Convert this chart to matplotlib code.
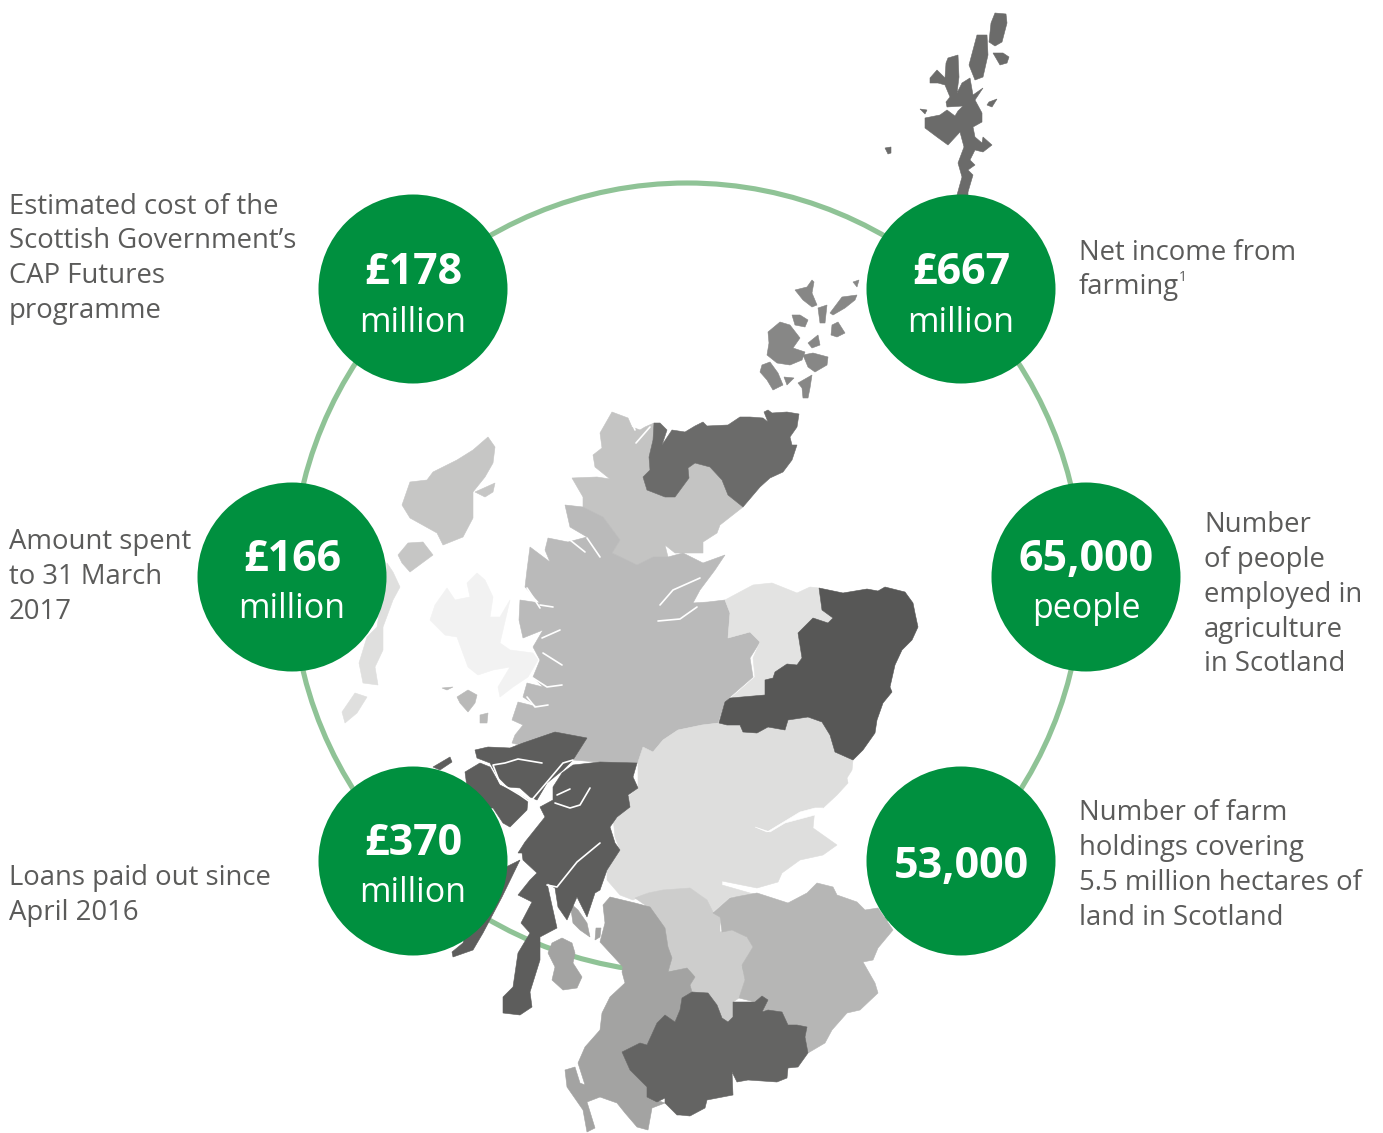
import matplotlib
matplotlib.use("Agg")
import matplotlib.pyplot as plt
from matplotlib.patches import Circle, Polygon

# the figures from the report
values = ["£178", "£667", "£166", "65,000", "£370", "53,000"]
units = ["million", "million", "million", "people", "million", ""]
descriptions = [
	["Estimated cost of the", "Scottish Government’s", "CAP Futures", "programme"],
	["Net income from", "farming"],
	["Amount spent", "to 31 March", "2017"],
	["Number", "of people", "employed in", "agriculture", "in Scotland"],
	["Loans paid out since", "April 2016"],
	["Number of farm", "holdings covering", "5.5 million hectares of", "land in Scotland"],
]

# map outlines, in pixels
shetland = [
	[(995,13),(1006,14),(1007,23),(1002,42),(995,46),(989,42),(991,23)],
	[(977,35),(987,35),(988,55),(983,77),(975,80),(969,65),(973,50)],
	[(993,53),(1003,53),(1009,57),(1007,63),(1000,65)],
	[(948,58),(958,55),(959,77),(957,93),(962,83),(970,78),(973,95),(983,88),(975,100),(982,113),(982,122),(973,127),(975,137),(982,143),(983,137),(992,145),(983,152),(975,150),(970,160),(975,165),(968,170),(973,175),(968,192),(968,197),(957,195),(962,177),(958,163),(964,147),(960,132),(948,145),(937,137),(925,128),(925,118),(940,115),(947,110),(955,116),(958,111),(963,106),(947,107),(946,102),(950,97),(945,85),(938,83),(930,83),(930,78),(937,70),(945,78),(946,63)],
	[(989,102),(997,99),(992,107),(987,105)],
	[(885,148),(891,147),(891,153),(888,154)],
	[(920,109),(927,110),(925,114)],
]
orkney = [
	[(768,332),(780,322),(790,325),(800,338),(793,348),(805,352),(802,360),(790,365),(777,363),(767,355),(769,343)],
	[(762,365),(770,362),(778,373),(783,385),(773,390),(767,380),(760,372)],
	[(798,383),(812,375),(810,388),(808,398),(803,398),(802,388)],
	[(784,377),(794,378),(787,385)],
	[(792,315),(800,315),(808,320),(805,327),(795,325)],
	[(803,355),(813,353),(828,357),(827,365),(815,372),(808,367)],
	[(808,343),(818,335),(820,345),(812,348)],
	[(830,313),(842,297),(857,295),(855,300),(845,308),(833,315)],
	[(795,290),(807,287),(812,280),(814,282),(812,293),(817,305),(812,307),(803,300)],
	[(818,308),(827,305),(825,323),(820,323)],
	[(832,325),(838,322),(845,333),(837,337),(831,335)],
	[(853,282),(859,280),(857,287)],
]
caithness = [[(654,423),(660,423),(667,430),(662,445),(672,430),(685,432),(695,426),(703,422),(707,426),(728,425),(740,417),(750,417),(763,418),(768,422),(764,412),(768,410),(772,413),(787,412),(799,414),(797,427),(790,437),(792,445),(797,445),(792,460),(783,472),(770,478),(760,487),(743,507),(728,495),(722,480),(710,467),(695,463),(688,468),(689,478),(675,497),(665,497),(647,490),(643,477),(650,470),(649,457),(653,440)]]
ross = [[(612,412),(628,418),(632,427),(640,430),(645,427),(654,423),(653,440),(649,457),(650,470),(643,477),(647,490),(665,497),(675,497),(689,478),(688,468),(695,463),(710,467),(722,480),(728,495),(743,507),(720,525),(717,533),(703,542),(703,553),(690,553),(675,553),(665,545),(668,557),(653,557),(637,565),(612,553),(620,540),(603,517),(583,507),(583,497),(572,478),(597,477),(610,479),(595,467),(593,455),(602,448),(600,433)]]
highland = [[(565,505),(570,527),(587,537),(568,542),(548,538),(545,550),(550,562),(530,547),(527,570),(525,587),(540,603),(520,600),(519,620),(523,638),(543,630),(533,647),(540,660),(533,677),(543,687),(527,683),(523,697),(538,707),(518,702),(512,720),(523,725),(515,735),(512,743),(527,747),(555,732),(587,738),(573,760),(597,762),(638,763),(643,750),(653,752),(663,740),(678,730),(702,725),(718,723),(725,702),(730,697),(753,677),(750,658),(760,642),(750,632),(728,638),(730,613),(725,600),(708,602),(693,603),(700,590),(715,570),(725,555),(703,563),(683,553),(668,557),(653,557),(637,565),(612,553),(620,540),(603,517),(583,507)]]
moray = [[(725,600),(738,593),(753,585),(772,583),(797,593),(810,587),(819,588),(822,610),(833,618),(828,623),(813,618),(798,633),(802,658),(797,665),(787,664),(775,672),(773,678),(765,680),(765,695),(732,697),(755,677),(753,658),(760,642),(750,632),(728,638),(730,613)]]
aberdeen = [[(819,588),(843,593),(867,589),(878,591),(885,587),(905,592),(913,603),(915,613),(918,627),(912,640),(902,650),(895,665),(890,687),(892,692),(883,703),(877,720),(875,733),(863,750),(853,760),(835,752),(830,735),(822,722),(808,717),(788,720),(785,730),(768,727),(757,733),(743,732),(740,725),(727,725),(719,723),(725,702),(730,698),(765,695),(765,680),(773,678),(775,672),(787,664),(797,665),(802,658),(798,633),(813,618),(828,623),(833,618),(822,610)]]
tayside = [[(638,762),(643,747),(653,752),(663,740),(678,730),(702,725),(719,723),(727,725),(740,725),(743,732),(757,733),(768,727),(785,730),(788,720),(808,717),(822,722),(830,735),(835,752),(853,760),(852,770),(847,778),(848,783),(837,795),(823,808),(815,808),(813,828),(837,845),(823,855),(800,860),(782,873),(778,882),(757,888),(722,881),(722,885),(757,895),(730,897),(713,912),(707,900),(690,888),(663,890),(647,893),(633,900),(620,895),(607,880),(607,870),(620,850),(615,837),(613,817),(628,805),(628,797),(638,788)]]
lanark = [[(635,898),(648,893),(663,890),(690,888),(707,900),(713,912),(720,917),(720,932),(732,930),(747,937),(753,947),(742,965),(745,980),(739,998),(733,1002),(733,1017),(728,1022),(722,1018),(717,1005),(708,993),(692,992),(690,985),(695,977),(687,968),(668,972),(672,958),(668,947),(665,928),(648,907)]]
borders = [[(713,913),(730,898),(757,893),(788,903),(807,893),(817,883),(833,887),(837,895),(857,902),(865,910),(878,908),(893,930),(878,948),(873,960),(863,962),(875,983),(878,993),(860,1010),(847,1013),(832,1030),(825,1043),(808,1053),(805,1037),(807,1027),(797,1025),(788,1025),(782,1012),(768,1010),(762,1012),(768,1000),(762,996),(755,1002),(739,998),(745,980),(742,965),(753,947),(747,937),(732,930),(722,932),(720,917)]]
ayrshire = [
	[(603,905),(610,897),(635,903),(650,907),(665,928),(668,947),(672,958),(668,972),(687,968),(695,977),(690,985),(692,992),(682,998),(680,1010),(675,1022),(665,1015),(657,1023),(647,1045),(640,1043),(622,1052),(630,1070),(647,1087),(647,1097),(665,1103),(652,1108),(648,1130),(637,1127),(625,1113),(617,1103),(600,1097),(587,1102),(595,1128),(587,1132),(583,1110),(567,1087),(565,1070),(575,1067),(580,1083),(585,1085),(578,1063),(585,1047),(600,1030),(602,1013),(610,997),(625,983),(622,972),(623,967),(600,942),(605,923)],
	[(562,938),(572,943),(575,953),(573,963),(582,977),(577,988),(563,990),(552,980),(555,967),(548,953),(552,943)],
	[(570,903),(578,910),(587,923),(590,937),(580,930),(573,923)],
	[(596,928),(601,928),(600,937),(595,940)],
]
dumfries = [[(622,1052),(640,1043),(647,1045),(657,1023),(665,1015),(675,1022),(680,1010),(682,998),(692,992),(708,993),(717,1005),(722,1018),(728,1022),(733,1017),(733,1002),(755,1002),(762,996),(768,1000),(762,1012),(768,1010),(782,1012),(788,1025),(797,1025),(807,1027),(805,1037),(808,1053),(798,1067),(788,1068),(787,1078),(777,1082),(748,1080),(737,1082),(732,1072),(733,1095),(707,1100),(705,1108),(690,1116),(680,1115),(677,1115),(665,1103),(665,1098),(657,1102),(647,1097),(647,1087),(630,1070)]]
argyll = [
	[(475,750),(488,747),(510,748),(523,743),(555,732),(587,738),(573,760),(563,770),(547,783),(537,800),(530,797),(520,788),(508,787),(498,777),(490,763),(477,758)],
	[(465,772),(480,763),(490,767),(500,785),(517,793),(528,800),(527,810),(510,827),(503,823),(493,808),(470,810)],
	[(573,765),(600,762),(637,763),(633,777),(638,788),(628,795),(630,807),(617,817),(610,827),(615,843),(620,850),(607,870),(600,890),(595,893),(587,917),(577,897),(567,920),(558,907),(555,888),(547,883),(557,928),(540,937),(540,960),(530,992),(532,1007),(520,1015),(503,1013),(503,997),(513,987),(518,953),(530,933),(521,923),(532,902),(518,895),(530,880),(537,873),(523,860),(522,853),(518,853),(525,842),(537,827),(545,817),(540,807),(553,800),(553,787),(562,773)],
	[(520,860),(502,897),(483,933),(473,950),(453,957),(452,952),(463,943),(470,920),(480,880)],
	[(433,767),(450,757),(452,762),(440,770)],
]
lewis = [
	[(488,437),(495,447),(493,463),(485,477),(473,492),(473,518),(463,537),(443,545),(437,533),(410,518),(402,505),(410,482),(427,480),(433,472),(457,460),(473,450)],
	[(398,555),(408,543),(423,542),(433,555),(410,572),(402,563)],
	[(475,492),(495,483),(493,492),(485,497)],
]
uist = [
	[(387,563),(393,572),(400,587),(393,600),(383,627),(383,650),(375,667),(378,685),(363,683),(359,663),(367,637),(377,627)],
	[(355,693),(367,697),(357,713),(345,723),(342,712)],
]
skye = [[(477,573),(485,580),(493,597),(490,617),(500,617),(510,600),(503,630),(500,643),(510,650),(533,653),(538,660),(528,677),(513,687),(500,697),(498,687),(510,667),(493,670),(478,675),(468,667),(457,637),(445,635),(430,620),(435,605),(447,588),(455,600),(470,597),(467,583)]]
small_isles = [
	[(457,697),(468,690),(477,695),(475,703),(468,712),(460,703)],
	[(480,715),(488,713),(487,723),(480,723)],
	[(442,688),(453,687),(447,690)],
]
firth_of_tay = [[(755,827),(767,832),(800,812),(815,808),(823,808),(815,815),(785,823),(770,832)]]

# sea lochs that cut through the land
lochs = [
	[(660,605),(673,590),(700,578)],
	[(658,621),(680,619),(697,607)],
	[(630,418),(635,430)],
	[(650,427),(636,443)],
	[(570,540),(585,552)],
	[(587,538),(600,557)],
	[(527,588),(540,608)],
	[(540,605),(553,607)],
	[(542,638),(560,630)],
	[(543,653),(562,665)],
	[(533,678),(547,687),(562,685)],
	[(527,697),(535,707),(548,705)],
	[(542,763),(518,759),(505,763),(493,765),(500,783),(520,795),(530,802),(547,782),(563,763),(573,760)],
	[(600,843),(577,862),(557,887),(547,885)],
	[(590,788),(580,805),(570,808),(555,803)],
	[(570,789),(557,795)],
]

circle_x = [413, 961, 292, 1086, 413, 961]
circle_y = [289, 289, 577, 577, 861, 861]
value_y = [284, 284, 571, 571, 855, 878]
unit_y = [332, 332, 618, 618, 902, 902]
text_x = [9, 1079, 9, 1204, 9, 1079]
text_y = [213.5, 259.5, 549.5, 532.5, 885.5, 820.5]

GREEN = "#00903f"
GREY = "#5b5b5a"

fig = plt.figure(figsize=(13.83, 11.33), dpi=100)
ax = fig.add_axes([0, 0, 1, 1])
ax.set_xlim(0, 1383)
ax.set_ylim(1133, 0)
ax.axis("off")

ax.add_patch(Circle((687, 578), 395, fill=False, edgecolor="#8fc396", linewidth=3.7, zorder=1))

regions = [
	(skye, "#f2f2f2"), (uist, "#dfdfde"), (lewis, "#c6c6c5"), (small_isles, "#b9b9b8"),
	(ross, "#c4c4c3"), (highland, "#bababa"), (moray, "#e3e3e2"), (tayside, "#dededd"),
	(lanark, "#cdcdcc"), (borders, "#b6b6b5"), (ayrshire, "#a3a3a2"), (dumfries, "#646463"),
	(aberdeen, "#575756"), (caithness, "#6b6b6a"), (argyll, "#5d5d5c"),
	(orkney, "#878786"), (shetland, "#6b6b6a"), (firth_of_tay, "white"),
]
for shapes, colour in regions:
	for shape in shapes:
		ax.add_patch(Polygon(shape, closed=True, facecolor=colour, edgecolor=colour, linewidth=0.4, zorder=2))

for loch in lochs:
	ax.plot([p[0] for p in loch], [p[1] for p in loch], color="white", linewidth=1.2, zorder=3, solid_capstyle="round")

for i in range(len(values)):
	ax.add_patch(Circle((circle_x[i], circle_y[i]), 94.5, facecolor=GREEN, edgecolor="none", zorder=4))
	ax.text(circle_x[i], value_y[i], values[i], color="white", fontsize=31, fontweight="bold",
		family="Open Sans", ha="center", va="baseline", zorder=5)
	if units[i]:
		ax.text(circle_x[i], unit_y[i], units[i], color="white", fontsize=24.5,
			family="Open Sans", ha="center", va="baseline", zorder=5)
	for j, line in enumerate(descriptions[i]):
		ax.text(text_x[i], text_y[i] + j * 34.7, line, color=GREY, fontsize=19.8,
			family="Open Sans", ha="left", va="baseline", zorder=5)

# footnote mark after "farming"
ax.text(1179, 281, "1", color=GREY, fontsize=10, family="Open Sans", ha="left", va="baseline", zorder=5)

fig.savefig("out.png", dpi=100, facecolor="white")
